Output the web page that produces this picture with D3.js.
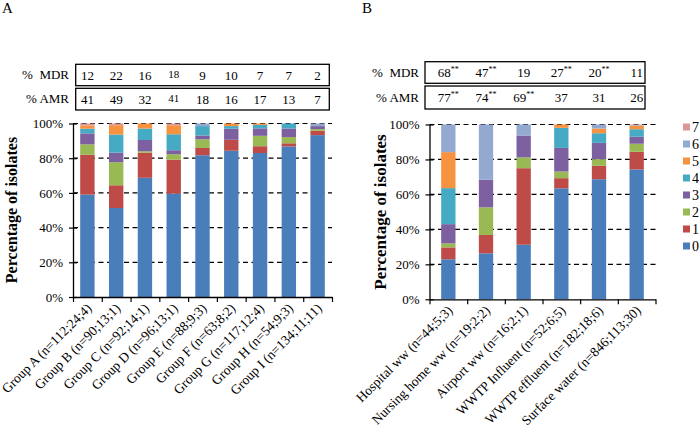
<!DOCTYPE html>
<html><head><meta charset="utf-8">
<script src="https://cdn.jsdelivr.net/npm/d3@7"></script>
<style>
body{margin:0;background:#fff}
svg{display:block}
text{font-family:"Liberation Serif","Times New Roman",serif;fill:#000}
</style>
</head><body>
<svg id="chart" width="700" height="429" font-family="Liberation Serif"></svg>
<script>
// ---------- data ----------
const seriesKeys = ["0","1","2","3","4","5","6","7"];
const seriesColors = ["#4A7EBB","#BE4B48","#98B954","#7D60A0","#46AAC5","#F69240","#93A9CF","#D99795"];
const yTicks = [0,20,40,60,80,100];

// Panel A
const groupsA = ["Group A (n=112;24;4)","Group B (n=90;13;1)","Group C (n=92;14;1)","Group D (n=96;13;1)","Group E (n=88;9;3)","Group F (n=63;8;2)","Group G (n=117;12;4)","Group H (n=54;9;3)","Group I (n=134;11;11)"];
// percent of isolates resistant to 0..7 classes, one row per group
const valuesA = [
  [59.0, 23.0,  6.0, 6.3,  2.7, 1.9, 0.0, 1.1],
  [51.3, 13.1, 13.3, 5.5, 10.4, 5.4, 0.0, 1.0],
  [68.7, 14.5,  0.8, 6.5,  6.6, 2.9, 0.0, 0.0],
  [59.6, 19.6,  3.1, 2.3,  9.2, 5.2, 0.0, 1.0],
  [81.7,  4.2,  5.0, 2.2,  5.4, 0.0, 1.5, 0.0],
  [84.3,  6.3,  0.0, 6.4,  1.5, 1.5, 0.0, 0.0],
  [83.0,  3.9,  6.0, 4.3,  2.0, 0.8, 0.0, 0.0],
  [86.8,  1.8,  3.6, 4.9,  2.9, 0.0, 0.0, 0.0],
  [93.3,  2.5,  1.0, 1.7,  0.0, 0.0, 1.5, 0.0]
];
const mdrA = [12,22,16,18,9,10,7,7,2];
const amrA = [41,49,32,41,18,16,17,13,7];

// Panel B
const groupsB = ["Hospital ww (n=44;5;3)","Nursing home ww (n=19;2;2)","Airport ww (n=16;2;1)","WWTP Influent (n=52;6;5)","WWTP effluent (n=182;18;6)","Surface water (n=846;113;30)"];
const valuesB = [
  [22.9,  6.8,  2.3, 11.0, 20.6, 20.6, 15.8, 0.0],
  [26.3, 10.5, 15.8, 15.8,  0.0,  0.0, 31.6, 0.0],
  [31.2, 43.8,  6.2, 12.5,  0.0,  0.0,  6.3, 0.0],
  [63.5,  5.8,  3.8, 13.5, 11.5,  1.9,  0.0, 0.0],
  [68.7,  7.7,  3.8,  9.3,  5.5,  2.7,  2.3, 0.0],
  [74.3, 10.1,  4.6,  4.0,  4.3,  2.1,  0.3, 0.3]
];
const mdrB = [68,47,19,27,20,11];
const mdrBSig = [true,true,false,true,true,false];
const amrB = [77,74,69,37,31,26];
const amrBSig = [true,true,true,false,false,false];

// ---------- drawing ----------
const svg = d3.select("#chart");

function drawPanel(o){
  const g = svg.append("g");
  const n = o.groups.length;
  const x = d3.scaleBand().domain(o.groups).range([o.x0,o.x1])
      .paddingInner(o.pad).paddingOuter(o.pad/2);
  const y = d3.scaleLinear().domain([0,100]).range([o.yBottom,o.yTop]);

  // gridlines
  g.append("g").selectAll("line").data(yTicks.filter(d=>d>0)).join("line")
    .attr("x1",o.x0).attr("x2",o.x1)
    .attr("y1",d=>y(d)).attr("y2",d=>y(d))
    .attr("stroke","#000").attr("stroke-width",1.2).attr("stroke-dasharray","5,3.5");

  // stacked bars
  const rows = o.values.map((v,i)=>{const r={group:o.groups[i]}; seriesKeys.forEach((k,j)=>r[k]=v[j]); return r;});
  const stacked = d3.stack().keys(seriesKeys)(rows);
  g.append("g").selectAll("g").data(stacked).join("g")
    .attr("fill",(d,i)=>seriesColors[i])
    .selectAll("rect").data(d=>d).join("rect")
    .attr("x",d=>x(d.data.group))
    .attr("width",x.bandwidth())
    .attr("y",d=>y(d[1]))
    .attr("height",d=>Math.max(0,y(d[0])-y(d[1])));

  // y axis
  const ya = g.append("g").attr("transform",`translate(${o.x0},0)`)
    .call(d3.axisLeft(y).tickValues(yTicks).tickFormat(d=>d+"%").tickSizeInner(4).tickSizeOuter(0).tickPadding(6));
  ya.attr("font-family","Liberation Serif");
  ya.select(".domain").attr("stroke","#000").attr("stroke-width",1.3);
  ya.selectAll(".tick line").attr("x1",4).attr("x2",-4).attr("stroke-width",1.2);
  ya.selectAll(".tick text").attr("font-size",13);

  // x axis (ticks at category boundaries)
  const xb = d3.scaleLinear().domain([0,n]).range([o.x0,o.x1]);
  const xa = g.append("g").attr("transform",`translate(0,${o.yBottom})`)
    .call(d3.axisBottom(xb).tickValues(d3.range(n+1)).tickFormat("").tickSizeInner(5).tickSizeOuter(0));
  xa.select(".domain").attr("stroke-width",1.3);
  xa.selectAll(".tick line").attr("stroke-width",1.2);

  // category labels
  g.append("g").selectAll("text").data(o.groups).join("text")
    .attr("transform",d=>`translate(${x(d)+x.bandwidth()/2+o.lblDx},${o.yBottom+o.lblDy}) rotate(-45)`)
    .attr("text-anchor","end").attr("font-size",o.lblSize).text(d=>d);

  // y title
  g.append("text").attr("transform",`translate(${o.titleX},${o.titleY}) rotate(-90)`)
    .attr("text-anchor","middle").attr("font-weight","bold").attr("font-size",o.titleSize)
    .text("Percentage of isolates");

  // table boxes
  const rowsT = [
    {label:"%  MDR", vals:o.mdr, sig:o.mdrSig, y0:o.mdrY0, y1:o.mdrY1},
    {label:"% AMR", vals:o.amr, sig:o.amrSig, y0:o.amrY0, y1:o.amrY1}
  ];
  rowsT.forEach(r=>{
    g.append("rect").attr("x",o.bx0).attr("y",r.y0).attr("width",o.bx1-o.bx0).attr("height",r.y1-r.y0)
      .attr("fill","none").attr("stroke","#000").attr("stroke-width",1.3);
    g.append("text").attr("x",o.labelX).attr("y",(r.y0+r.y1)/2+4).attr("text-anchor","end")
      .attr("font-size",13).style("white-space","pre").text(r.label);
    const t = g.append("g").selectAll("text").data(r.vals).join("text")
      .attr("x",(d,i)=>x(o.groups[i])+x.bandwidth()/2)
      .attr("y",(d,i)=>(r.y0+r.y1)/2+4.5-(o.smallIdx===i?2:0))
      .attr("text-anchor","middle")
      .attr("font-size",(d,i)=>o.smallIdx===i?11:13);
    t.append("tspan").text(d=>d);
    if(r.sig){
      t.filter((d,i)=>r.sig[i]).append("tspan").attr("font-size",8).attr("dy",-5).text("**");
    }
  });

  // panel letter
  g.append("text").attr("x",o.letterX).attr("y",13).attr("font-size",15).text(o.letter);
  return {x,y};
}

drawPanel({
  groups:groupsA, values:valuesA, mdr:mdrA, amr:amrA, mdrSig:null, amrSig:null,
  x0:73, x1:332, yBottom:297, yTop:123.5, pad:0.5,
  lblDx:5, lblDy:12, lblSize:13.5,
  titleX:17, titleY:210, titleSize:16,
  bx0:75.7, bx1:329.3, mdrY0:64.3, mdrY1:85.7, amrY0:88.3, amrY1:110, labelX:69,
  letter:"A", letterX:2, smallIdx:3
});

drawPanel({
  groups:groupsB, values:valuesB, mdr:mdrB, amr:amrB, mdrSig:mdrBSig, amrSig:amrBSig,
  x0:429.5, x1:655.5, yBottom:299.3, yTop:124.5, pad:0.62,
  lblDx:5, lblDy:12, lblSize:13.5,
  titleX:386, titleY:212, titleSize:17,
  bx0:425, bx1:645, mdrY0:61.7, mdrY1:83.3, amrY0:86, amrY1:109, labelX:419,
  letter:"B", letterX:362, smallIdx:-1
});

// legend (top = 7 ... bottom = 0)
const legendItems = seriesKeys.slice().reverse();
const lg = svg.append("g").selectAll("g").data(legendItems).join("g")
  .attr("transform",(d,i)=>`translate(683,${127+i*17})`);
lg.append("rect").attr("x",0).attr("y",-3.5).attr("width",7).attr("height",7)
  .attr("fill",d=>seriesColors[+d]);
lg.append("text").attr("x",9).attr("y",5).attr("font-size",14).text(d=>d);
</script>
</body></html>
